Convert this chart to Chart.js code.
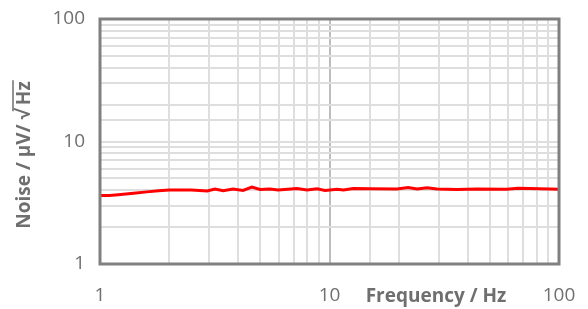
<!DOCTYPE html>
<html>
<head>
<meta charset="utf-8">
<script src="https://cdn.jsdelivr.net/npm/chart.js@4/dist/chart.umd.min.js"></script>
<style>
html,body{margin:0;padding:0;background:#fff;}
#wrap{width:588px;height:309px;position:relative;}
</style>
</head>
<body>
<div id="wrap"><canvas id="c" width="588" height="309"></canvas></div>
<script>
const frequencyHz = [1, 1.1, 1.2, 1.4, 1.6, 1.8, 2, 2.5, 2.93, 3.17, 3.44, 3.8, 4.2, 4.59, 4.98, 5.5, 5.97, 7.22, 7.98, 8.83, 9.56, 10.8, 11.5, 12.7, 15, 19.7, 22, 24.1, 26.6, 29.4, 35.9, 43.9, 59.3, 66.3, 74.8, 100];
const noiseUV = [3.62, 3.63, 3.68, 3.78, 3.88, 3.97, 4.02, 4.02, 3.94, 4.09, 3.96, 4.09, 3.98, 4.25, 4.06, 4.09, 4.02, 4.13, 4.02, 4.11, 3.99, 4.07, 4.02, 4.13, 4.12, 4.10, 4.21, 4.09, 4.19, 4.09, 4.06, 4.09, 4.07, 4.16, 4.13, 4.07];
const tickLabels = [1, 10, 100];
const xTitle = 'Frequency / Hz';
const yTitleMain = 'Noise / µV/ √';
const yTitleRad = 'Hz';

const points = frequencyHz.map((f, i) => ({x: f, y: noiseUV[i]}));
const FONT = '"Open Sans", "Liberation Sans", sans-serif';
const TXT = '#6f6f6f';

const decor = {
  id: 'decor',
  afterDraw(chart) {
    const ctx = chart.ctx, a = chart.chartArea;
    ctx.save();
    ctx.strokeStyle = '#808080';
    ctx.lineWidth = 3;
    ctx.strokeRect(a.left, a.top, a.right - a.left, a.bottom - a.top);
    // x title
    ctx.fillStyle = TXT;
    ctx.font = 'bold 19px ' + FONT;
    ctx.textAlign = 'center';
    ctx.textBaseline = 'middle';
    ctx.fillText(xTitle, 436, 297);
    // y title
    ctx.translate(25, 155);
    ctx.rotate(-Math.PI / 2);
    ctx.textAlign = 'left';
    const w1 = ctx.measureText(yTitleMain).width;
    const w2 = ctx.measureText(yTitleRad).width;
    const W = w1 + w2 + 4;
    ctx.fillText(yTitleMain, -W / 2, 0);
    ctx.fillText(yTitleRad, -W / 2 + w1 + 4, 0);
    ctx.strokeStyle = TXT;
    ctx.lineWidth = 1.5;
    ctx.beginPath();
    ctx.moveTo(-W / 2 + w1 - 2, -12);
    ctx.lineTo(-W / 2 + W + 1, -12);
    ctx.stroke();
    ctx.restore();
  }
};

new Chart(document.getElementById('c'), {
  type: 'scatter',
  data: {
    datasets: [{
      data: points,
      showLine: true,
      borderColor: '#ff0000',
      backgroundColor: '#ff0000',
      borderWidth: 3,
      pointRadius: 0,
      tension: 0
    }]
  },
  options: {
    responsive: false,
    animation: false,
    layout: {padding: {top: 19, right: 29, left: 0, bottom: 0}},
    plugins: {legend: {display: false}, tooltip: {enabled: false}},
    scales: {
      x: {
        type: 'logarithmic',
        min: 1, max: 100,
        afterFit(s) { s.height = 45; s.paddingLeft = 0; s.paddingRight = 0; },
        border: {display: false},
        grid: {
          drawTicks: false,
          lineWidth: 2,
          color: c => (c.tick && c.tick.value === 10) ? '#bdbdbd' : '#dedede'
        },
        ticks: {
          autoSkip: false, maxRotation: 0, padding: 20,
          color: TXT, font: {size: 19, family: FONT},
          callback: v => tickLabels.includes(v) ? String(v) : ''
        }
      },
      y: {
        type: 'logarithmic',
        min: 1, max: 100,
        afterFit(s) { s.width = 100; s.paddingTop = 0; s.paddingBottom = 0; },
        border: {display: false},
        grid: {drawTicks: false, lineWidth: 2, color: '#dedede'},
        ticks: {
          autoSkip: false, padding: 15,
          color: TXT, font: {size: 19, family: FONT},
          callback: v => tickLabels.includes(v) ? String(v) : ''
        }
      }
    }
  },
  plugins: [decor]
});
</script>
</body>
</html>
